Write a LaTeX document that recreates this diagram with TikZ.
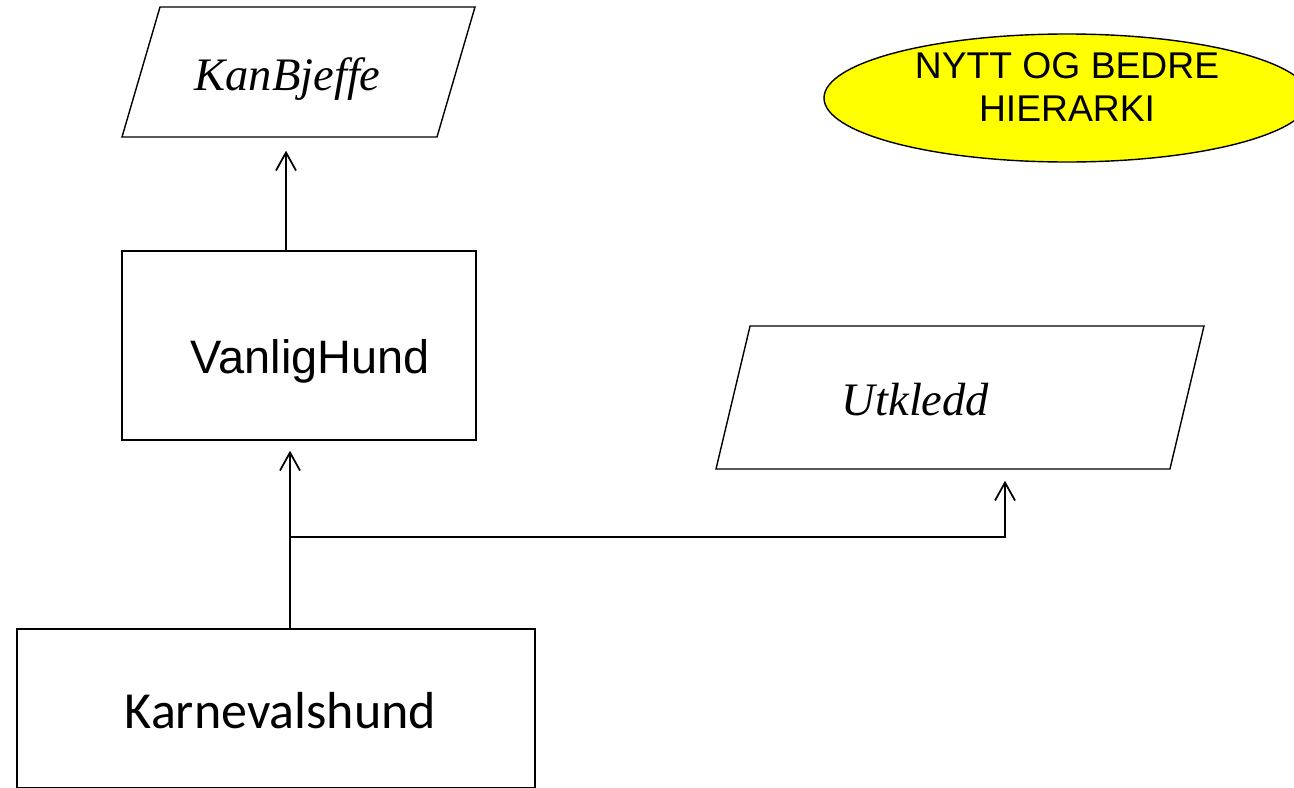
\documentclass[tikz,border=0pt]{standalone}
\usepackage{fontspec}
\setmainfont{Liberation Serif}
\setsansfont{Liberation Sans}
\newfontfamily\calibrifont{Carlito}
\usepackage{xcolor}
\definecolor{hierLine}{HTML}{000000}
\definecolor{hierNote}{HTML}{FFFF00}
\usepackage{tikz}
\usetikzlibrary{shapes.geometric,arrows.meta,positioning,calc}
\tikzset{
    klasse/.style={
        draw=hierLine,
        fill=white,
        rectangle,
        line width=0.8pt,
        align=center,
        font=\fontsize{26.7}{32}\selectfont\sffamily
    },
    grensesnitt/.style={
        draw=hierLine,
        fill=white,
        trapezium,
        trapezium stretches body=true,
        inner ysep=0pt,
        line width=0.8pt,
        align=center,
        font=\fontsize{26.5}{32}\selectfont\itshape
    },
    merknad/.style={
        draw=hierLine,
        fill=hierNote,
        ellipse,
        line width=0.8pt,
        align=center,
        font=\fontsize{21.2}{24.4}\selectfont\sffamily
    },
    arv/.style={
        -{Straight Barb[length=3.6mm,width=4mm]},
        line width=1pt,
        color=hierLine
    }
}
\newcommand{\senk}[2]{\raisebox{-#1}[0pt][0pt]{#2}}

\begin{document}
\begin{tikzpicture}
    \useasboundingbox (0,0) rectangle (25.88,-15.76);

    % klasser og grensesnitt
    \node[grensesnitt, trapezium left angle=73.7, trapezium right angle=106.3,
          minimum width=7.06cm, text height=1.3cm, text depth=1.3cm] (kan) at (5.97,-1.44)
          {\senk{0.36cm}{KanBjeffe}\hspace*{0.44cm}};
    \node[klasse, minimum width=7.08cm, minimum height=3.78cm] (vanlig) at (5.98,-6.91)
          {\hspace*{0.46cm}\senk{0.55cm}{VanligHund}};
    \node[klasse, minimum width=10.36cm, minimum height=3.18cm,
          font=\fontsize{29.6}{34}\selectfont\calibrifont] (karneval) at (5.52,-14.17)
          {\hspace*{0.18cm}\senk{0.39cm}{Karnevalshund}};
    \node[grensesnitt, trapezium left angle=76.6, trapezium right angle=103.4,
          minimum width=9.76cm, text height=1.43cm, text depth=1.43cm] (utkledd) at (19.2,-7.95)
          {\senk{0.35cm}{Utkledd}\hspace*{1.78cm}};
    \node[merknad, minimum width=9.72cm, minimum height=2.56cm] (notat) at (21.34,-1.96)
          {\senk{0.05cm}{\begin{tabular}{@{}c@{}}NYTT OG BEDRE\\HIERARKI\end{tabular}}};

    % arv
    \coordinate (split) at (5.8,-10.74);
    \draw[arv, shorten >=0.26cm] ([xshift=-0.26cm]vanlig.north)
        -- ([xshift=-0.26cm]vanlig.north |- kan.south);
    \draw[arv, shorten >=0.2cm] (split |- karneval.north) -- (split |- vanlig.south);
    \draw[arv, shorten >=0.22cm] (split) -| ([xshift=0.9cm]utkledd.south);
\end{tikzpicture}
\end{document}
